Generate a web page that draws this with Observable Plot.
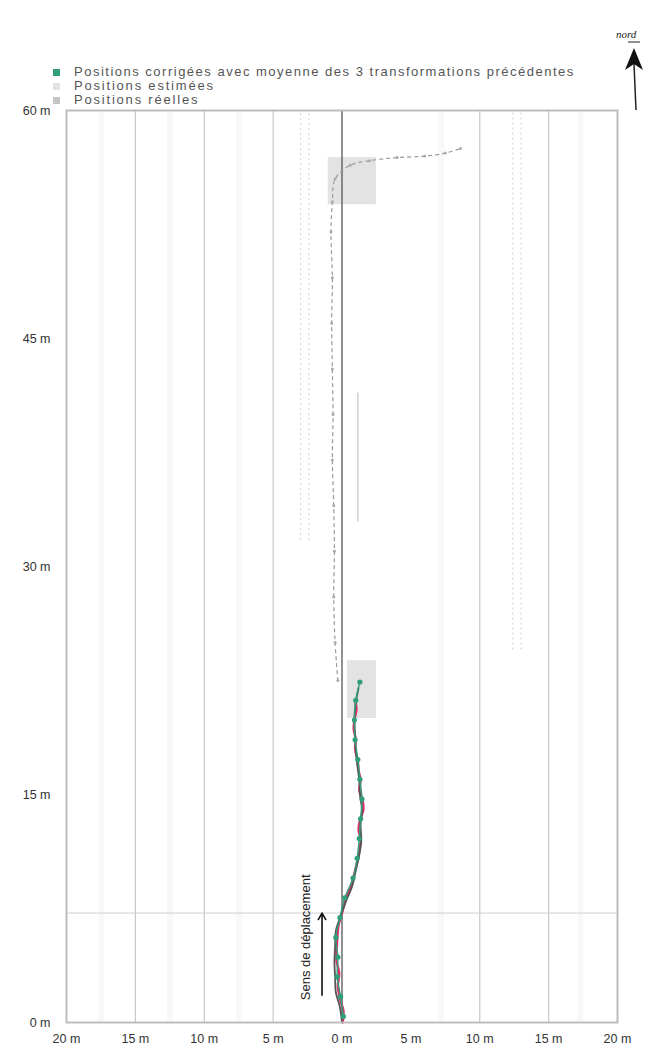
<!DOCTYPE html>
<html>
<head>
<meta charset="utf-8">
<script src="https://cdn.jsdelivr.net/npm/d3@7"></script>
<script src="https://cdn.jsdelivr.net/npm/@observablehq/plot@0.6"></script>
<style>
  body { margin: 0; background: #fff; font-family: "Liberation Sans", "DejaVu Sans", sans-serif; }
  #wrap { position: relative; width: 662px; height: 1054px; }
  #legend { position: absolute; left: 53px; top: 65px; font-size: 13px; color: #555; line-height: 14px; }
  #legend div { display: flex; align-items: center; white-space: nowrap; }
  #legend span.sw { display: inline-block; width: 7px; height: 7px; margin-right: 14px; }
  #north { position: absolute; left: 610px; top: 20px; }
</style>
</head>
<body>
<div id="wrap">
  <div id="chart"></div>
  <div id="legend"></div>
  <svg id="north" width="46" height="92" viewBox="0 0 46 92">
    <text x="6" y="18" font-size="11" font-style="italic" fill="#222" font-family="Liberation Serif, serif">nord</text>
    <line x1="18" y1="22" x2="30" y2="22" stroke="#222" stroke-width="1"/>
    <path d="M24 28 L33 50 L24 44 L15 50 Z" fill="#111"/>
    <line x1="24" y1="44" x2="26" y2="90" stroke="#222" stroke-width="1.5"/>
  </svg>
</div>
<script>
// ---- Axis ticks
const xTicks = [-20, -15, -10, -5, 0, 5, 10, 15, 20];
const yTicks = [0, 15, 30, 45, 60];
const gridX = [-15, -10, -5, 10, 15];
const faintX = [-17.5, -12.5, -7.5, 7.2, 17.3];

// ---- Legend labels
const legendLabels = [
  "Positions corrigées avec moyenne des 3 transformations précédentes",
  "Positions estimées",
  "Positions réelles"
];
const legendColors = ["#2f9e7c", "#e3e3e3", "#c4c4c4"];

// ---- Real positions (m)
const realY = [0, 0.8, 1.4, 2.4, 3.2, 4.1, 5.4, 6.4, 7.2, 8.0, 9.0, 10.0, 11.0, 12.0, 12.7, 13.3, 14.0, 14.6, 15.3, 15.9, 16.6, 17.2, 18.0, 18.6, 19.3, 19.9, 20.6, 21.2];
const realX = [0.05, 0.1, -0.1, -0.3, -0.2, -0.4, -0.35, -0.25, 0.0, 0.25, 0.65, 0.95, 1.2, 1.35, 1.2, 1.3, 1.55, 1.5, 1.25, 1.35, 1.2, 1.15, 0.95, 1.0, 0.85, 0.9, 1.05, 0.95];

// ---- Estimated positions (m)
const estY = [0, 1.0, 2.0, 3.0, 4.0, 5.0, 6.0, 7.0, 8.0, 9.0, 10.0, 11.0, 12.0, 13.0, 14.0, 15.0, 16.0, 17.0, 18.0, 19.0, 20.0, 21.0, 22.0];
const estX = [0.0, -0.15, -0.45, -0.5, -0.55, -0.5, -0.45, -0.1, 0.3, 0.75, 1.0, 1.25, 1.4, 1.35, 1.45, 1.3, 1.25, 1.1, 1.0, 0.95, 0.9, 1.0, 1.2];

// ---- Estimated positions beyond the corrected zone (m)
const farY = [22.5, 25, 28, 31, 34, 37, 40, 43, 46, 49, 52, 54, 55.5, 56.4, 56.7, 56.9, 57.0, 57.2, 57.5];
const farX = [-0.3, -0.5, -0.6, -0.55, -0.6, -0.7, -0.65, -0.7, -0.75, -0.7, -0.8, -0.7, -0.5, 0.6, 2.0, 4.0, 6.0, 7.5, 8.6];

// ---- Corrected positions (m)
const corrY = [0.4, 1.7, 3.0, 4.3, 5.6, 6.9, 8.2, 9.5, 10.8, 12.1, 13.4, 14.7, 16.0, 17.3, 18.6, 19.9, 21.2, 22.4];
const corrX = [0.1, -0.1, -0.35, -0.3, -0.45, -0.15, 0.2, 0.8, 1.1, 1.25, 1.35, 1.45, 1.3, 1.15, 0.95, 0.9, 1.0, 1.3];

// ---- Uncertainty boxes (m)
const boxX1 = [-1.0, 0.4];
const boxX2 = [2.5, 2.5];
const boxY1 = [53.8, 20.0];
const boxY2 = [56.9, 23.8];

// ---- Light mid segment (m)
const midY = [33.0, 41.4];
const midX = [1.15, 1.15];

// ---- Lane dotted lines (m)
const laneX = [-3.0, -2.4, 12.4, 13.0];
const laneY1 = [31.7, 31.7, 24.5, 24.5];
const laneY2 = [60, 60, 60, 60];

// ---- Direction arrow
const arrowX = [-1.45];
const arrowY1 = [1.8];
const arrowY2 = [7.2];
const arrowLabel = ["Sens de déplacement"];
const startLineY = [7.2];

const real = realY.map((y, i) => ({x: realX[i], y}));
const est = estY.map((y, i) => ({x: estX[i], y}));
const far = farY.map((y, i) => ({x: farX[i], y}));
const corr = corrY.map((y, i) => ({x: corrX[i], y}));
const boxes = boxX1.map((x1, i) => ({x1, x2: boxX2[i], y1: boxY1[i], y2: boxY2[i]}));
const mid = midY.map((y, i) => ({x: midX[i], y}));
const lanes = laneX.map((x, i) => ({x, y1: laneY1[i], y2: laneY2[i]}));

const chart = Plot.plot({
  width: 662,
  height: 1054,
  marginTop: 110,
  marginBottom: 32,
  marginLeft: 66,
  marginRight: 45,
  style: {fontFamily: "Liberation Sans, DejaVu Sans, sans-serif", fontSize: "12.5px", color: "#333"},
  x: {domain: [-20, 20], ticks: xTicks, tickFormat: d => Math.abs(d) + " m", tickSize: 0, tickPadding: 12, label: null},
  y: {domain: [0, 60], ticks: yTicks, tickFormat: d => d + " m", tickSize: 0, tickPadding: 16, label: null},
  marks: [
    Plot.ruleX(faintX, {stroke: "#f8f8f8", strokeWidth: 6}),
    Plot.ruleX(gridX, {stroke: "#c8c8c8", strokeWidth: 1.2}),
    Plot.ruleX(lanes, {x: "x", y1: "y1", y2: "y2", stroke: "#d0d0d0", strokeDasharray: "2,3"}),
    Plot.ruleY(startLineY, {stroke: "#cfcfcf"}),
    Plot.rect(boxes, {x1: "x1", x2: "x2", y1: "y1", y2: "y2", fill: "#d9d9d9", fillOpacity: 0.75}),
    Plot.ruleX([0], {stroke: "#555", strokeWidth: 1.3}),
    Plot.line(mid, {x: "x", y: "y", stroke: "#cfcfcf", strokeWidth: 1.5}),
    Plot.line(far, {x: "x", y: "y", stroke: "#999", strokeDasharray: "3,4", strokeWidth: 1.2, curve: "catmull-rom"}),
    Plot.dot(far, {x: "x", y: "y", r: 1.5, fill: "#aaa"}),
    Plot.line(real, {x: "x", y: "y", stroke: "#e0306a", strokeWidth: 2.4, curve: "catmull-rom"}),
    Plot.line(est, {x: "x", y: "y", stroke: "#555", strokeWidth: 1.8, curve: "catmull-rom"}),
    Plot.line(corr, {x: "x", y: "y", stroke: "#2f9e7c", strokeWidth: 1.4, curve: "catmull-rom"}),
    Plot.dot(corr, {x: "x", y: "y", r: 2.6, fill: "#2f9e7c"}),
    Plot.arrow(arrowX.map((x, i) => ({x, y1: arrowY1[i], y2: arrowY2[i]})), {x: "x", y1: "y1", y2: "y2", stroke: "#111", strokeWidth: 1.6, headLength: 7}),
    Plot.text(arrowLabel, {x: -2.6, y: 5.6, text: d => d, rotate: -90, fontSize: 13, fill: "#222"}),
    Plot.frame({stroke: "#bdbdbd", strokeWidth: 2})
  ]
});
document.getElementById("chart").appendChild(chart);

const leg = document.getElementById("legend");
const spacing = ["1.5px", "1.8px", "1.8px"];
legendLabels.forEach((t, i) => {
  const row = document.createElement("div");
  const sw = document.createElement("span");
  sw.className = "sw";
  sw.style.background = legendColors[i];
  row.appendChild(sw);
  const tx = document.createElement("span");
  tx.textContent = t;
  tx.style.letterSpacing = spacing[i];
  row.appendChild(tx);
  leg.appendChild(row);
});
</script>
</body>
</html>
